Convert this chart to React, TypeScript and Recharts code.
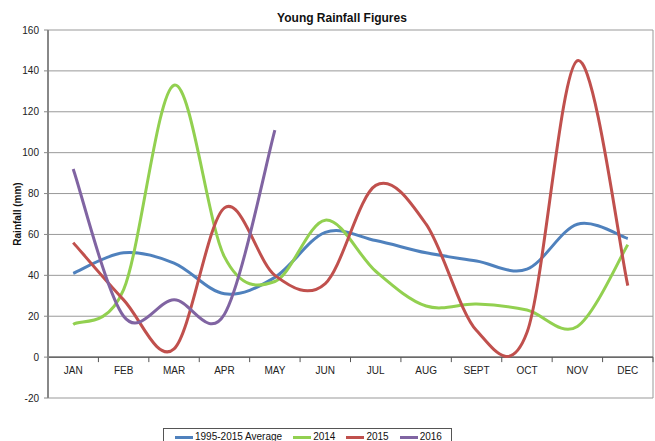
import { CartesianGrid, Line, LineChart, ReferenceLine, XAxis, YAxis } from "recharts"

const months = ["JAN", "FEB", "MAR", "APR", "MAY", "JUN", "JUL", "AUG", "SEPT", "OCT", "NOV", "DEC"]
const average = [41, 51, 46, 31, 39, 61, 57, 51, 47, 43, 65, 58]
const rain2014 = [16, 33, 133, 49, 37, 67, 42, 25, 26, 23, 15, 55]
const rain2015 = [56, 28, 4, 73, 40, 36, 84, 65, 13, 12, 145, 35]
const rain2016 = [92, 20, 28, 21, 111, null, null, null, null, null, null, null]
const yTicks = [-20, 0, 20, 40, 60, 80, 100, 120, 140, 160]

const series = [
  { key: "avg", name: "1995-2015 Average", values: average, color: "#4F81BD" },
  { key: "y2014", name: "2014", values: rain2014, color: "#92D050" },
  { key: "y2015", name: "2015", values: rain2015, color: "#C0504D" },
  { key: "y2016", name: "2016", values: rain2016, color: "#8064A2" },
]

const data = months.map((m, i) => {
  const row: any = { month: m }
  series.forEach((s) => (row[s.key] = s.values[i]))
  return row
})

// layout
const W = 655
const H = 441
const TOP = 30
const BOTTOM = 398
const LEFT = 48
const RIGHT = 653
const PLOT_H = BOTTOM - TOP
const ZERO_Y = TOP + (PLOT_H * 160) / 180
const HALF_BAND = (RIGHT - LEFT) / 12 / 2

// excel-ish smoothed line (catmull-rom through every point)
const smoothCurve = (context: any) => {
  let pts: number[][] = []
  const T = 1 / 6
  return {
    areaStart() {},
    areaEnd() {},
    lineStart() {
      pts = []
    },
    lineEnd() {
      const n = pts.length
      if (!n) return
      context.moveTo(pts[0][0], pts[0][1])
      for (let i = 0; i < n - 1; i++) {
        const p0 = pts[Math.max(i - 1, 0)]
        const p1 = pts[i]
        const p2 = pts[i + 1]
        const p3 = pts[Math.min(i + 2, n - 1)]
        context.bezierCurveTo(
          p1[0] + (p2[0] - p0[0]) * T,
          p1[1] + (p2[1] - p0[1]) * T,
          p2[0] - (p3[0] - p1[0]) * T,
          p2[1] - (p3[1] - p1[1]) * T,
          p2[0],
          p2[1]
        )
      }
    },
    point(x: number, y: number) {
      pts.push([+x, +y])
    },
  }
}

const MonthTick = (props: any) => {
  const { x, payload } = props
  return (
    <g>
      <line x1={x + HALF_BAND} x2={x + HALF_BAND} y1={ZERO_Y} y2={ZERO_Y + 5} stroke="#555" />
      <text x={x} y={ZERO_Y + 17} textAnchor="middle" fontSize={10} fill="#222">
        {payload.value}
      </text>
    </g>
  )
}

export default function App() {
  return (
    <div
      style={{
        position: "relative",
        width: W,
        height: H,
        overflow: "hidden",
        fontFamily: "'Liberation Sans', Arial, sans-serif",
        background: "#fff",
      }}
    >
      <style>{`body{margin:0}`}</style>
      <div
        style={{
          position: "absolute",
          left: 342,
          top: 12,
          transform: "translateX(-50%)",
          fontSize: 12,
          lineHeight: "12px",
          fontWeight: "bold",
          whiteSpace: "nowrap",
          color: "#111",
        }}
      >
        Young Rainfall Figures
      </div>
      <div
        style={{
          position: "absolute",
          left: 17,
          top: (TOP + BOTTOM) / 2,
          transform: "translate(-50%, -50%) rotate(-90deg)",
          fontSize: 10,
          fontWeight: "bold",
          whiteSpace: "nowrap",
          color: "#111",
        }}
      >
        Rainfall (mm)
      </div>
      <LineChart width={W} height={H} data={data} margin={{ top: TOP, right: W - RIGHT, left: 0, bottom: H - BOTTOM - 30 }}>
        <CartesianGrid
          stroke="#999"
          verticalCoordinatesGenerator={({ offset }: any) => [offset.left + offset.width]}
        />
        <XAxis
          dataKey="month"
          height={30}
          padding={{ left: HALF_BAND, right: HALF_BAND }}
          axisLine={false}
          tickLine={false}
          tick={<MonthTick />}
          interval={0}
        />
        <YAxis
          width={LEFT}
          domain={[-20, 160]}
          ticks={yTicks}
          interval={0}
          axisLine={{ stroke: "#888", strokeWidth: 2 }}
          tickLine={{ stroke: "#888" }}
          tickSize={4}
          tickMargin={5}
          tick={{ fontSize: 10, fill: "#222" }}
        />
        <ReferenceLine y={0} stroke="#333" />
        {series.map((s) => (
          <Line
            key={s.key}
            dataKey={s.key}
            name={s.name}
            type={smoothCurve as any}
            stroke={s.color}
            strokeWidth={3}
            dot={false}
            activeDot={false}
            isAnimationActive={false}
          />
        ))}
      </LineChart>
      <div
        style={{
          position: "absolute",
          left: 163,
          top: 428,
          width: 289,
          height: 24,
          boxSizing: "border-box",
          border: "1px solid #555",
          display: "flex",
          alignItems: "flex-start",
          paddingLeft: 11,
          paddingTop: 2,
          fontSize: 10,
          lineHeight: "12px",
          color: "#111",
          whiteSpace: "nowrap",
        }}
      >
        {series.map((s) => (
          <div key={s.key} style={{ display: "flex", alignItems: "center", marginRight: 11, flexShrink: 0 }}>
            <span style={{ display: "inline-block", width: 18, height: 3, background: s.color, marginRight: 2 }} />
            <span>{s.name}</span>
          </div>
        ))}
      </div>
    </div>
  )
}
